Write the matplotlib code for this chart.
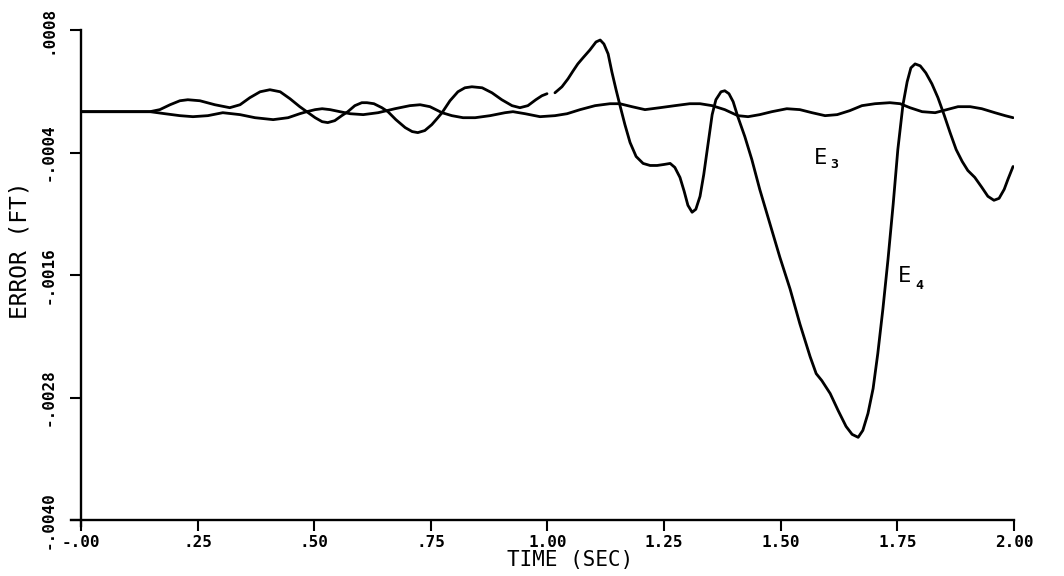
import matplotlib

matplotlib.use("Agg")
import matplotlib.pyplot as plt
import numpy as np

# time (sec) and error (ft) for the two tracking errors
t_e3 = [0.000, 0.148, 0.180, 0.212, 0.240, 0.272, 0.304, 0.341, 0.373, 0.412,
        0.444, 0.469, 0.484, 0.502, 0.517, 0.534, 0.555, 0.577, 0.605, 0.637,
        0.673, 0.705, 0.727, 0.748, 0.774, 0.795, 0.819, 0.845, 0.877, 0.909,
        0.926, 0.952, 0.984, 1.016, 1.042, 1.070, 1.102, 1.134, 1.155, 1.181,
        1.209, 1.241, 1.273, 1.305, 1.327, 1.353, 1.380, 1.408, 1.430, 1.455,
        1.481, 1.513, 1.541, 1.567, 1.595, 1.621, 1.648, 1.674, 1.702, 1.734,
        1.756, 1.777, 1.803, 1.831, 1.856, 1.880, 1.906, 1.931, 1.959, 1.981,
        1.998]
e3 = [0.0, 0.0, -0.20e-4, -0.39e-4, -0.49e-4, -0.39e-4, -0.10e-4, -0.29e-4, -0.59e-4, -0.78e-4,
      -0.59e-4, -0.20e-4, 0.0, 0.20e-4, 0.29e-4, 0.20e-4, 0.0, -0.20e-4, -0.29e-4, -0.10e-4,
      0.29e-4, 0.59e-4, 0.68e-4, 0.49e-4, -0.10e-4, -0.39e-4, -0.59e-4, -0.59e-4, -0.39e-4, -0.10e-4,
      0.0, -0.20e-4, -0.49e-4, -0.39e-4, -0.20e-4, 0.20e-4, 0.59e-4, 0.78e-4, 0.78e-4, 0.49e-4,
      0.20e-4, 0.39e-4, 0.59e-4, 0.78e-4, 0.78e-4, 0.59e-4, 0.20e-4, -0.39e-4, -0.49e-4, -0.29e-4,
      0.0, 0.29e-4, 0.20e-4, -0.10e-4, -0.39e-4, -0.29e-4, 0.10e-4, 0.59e-4, 0.78e-4, 0.88e-4,
      0.78e-4, 0.39e-4, 0.0, -0.10e-4, 0.20e-4, 0.49e-4, 0.49e-4, 0.29e-4, -0.10e-4, -0.39e-4,
      -0.59e-4]

# E4 has a short pen lift just after 1.0 sec (NaN breaks the line there)
t_e4 = [0.000, 0.148, 0.169, 0.191, 0.212, 0.229, 0.255, 0.287, 0.319, 0.341,
        0.362, 0.384, 0.405, 0.427, 0.448, 0.469, 0.484, 0.502, 0.517, 0.529,
        0.544, 0.559, 0.572, 0.587, 0.602, 0.613, 0.628, 0.645, 0.658, 0.675,
        0.695, 0.710, 0.722, 0.737, 0.752, 0.765, 0.774, 0.791, 0.808, 0.823,
        0.838, 0.860, 0.881, 0.902, 0.924, 0.941, 0.958, 0.975, 0.988, 0.999,
        1.007,
        1.016, 1.031, 1.044, 1.055, 1.065, 1.076, 1.091, 1.104, 1.113, 1.121,
        1.130, 1.138, 1.147, 1.155, 1.166, 1.177, 1.190, 1.205, 1.220, 1.235,
        1.250, 1.263, 1.273, 1.284, 1.293, 1.301, 1.310, 1.318, 1.327, 1.335,
        1.344, 1.353, 1.361, 1.372, 1.380, 1.389, 1.398, 1.408, 1.423, 1.438,
        1.455, 1.477, 1.498, 1.520, 1.541, 1.563, 1.576, 1.588, 1.606, 1.623,
        1.640, 1.653, 1.666, 1.676, 1.687, 1.698, 1.708, 1.719, 1.730, 1.741,
        1.751, 1.762, 1.771, 1.779, 1.788, 1.799, 1.811, 1.824, 1.837, 1.850,
        1.863, 1.876, 1.889, 1.901, 1.916, 1.931, 1.944, 1.957, 1.968, 1.979,
        1.987, 1.998]
e4 = [0.0, 0.0, 0.20e-4, 0.68e-4, 1.07e-4, 1.17e-4, 1.07e-4, 0.68e-4, 0.39e-4, 0.68e-4,
      1.37e-4, 1.95e-4, 2.15e-4, 1.95e-4, 1.27e-4, 0.49e-4, 0.0, -0.59e-4, -0.98e-4, -1.07e-4,
      -0.88e-4, -0.39e-4, 0.0, 0.59e-4, 0.88e-4, 0.88e-4, 0.78e-4, 0.39e-4, 0.0, -0.78e-4,
      -1.56e-4, -1.95e-4, -2.05e-4, -1.85e-4, -1.27e-4, -0.59e-4, -0.10e-4, 1.07e-4, 1.95e-4, 2.34e-4,
      2.44e-4, 2.34e-4, 1.85e-4, 1.17e-4, 0.59e-4, 0.39e-4, 0.59e-4, 1.17e-4, 1.56e-4, 1.76e-4,
      np.nan,
      1.85e-4, 2.44e-4, 3.22e-4, 4.00e-4, 4.68e-4, 5.27e-4, 6.05e-4, 6.83e-4, 7.02e-4, 6.63e-4,
      5.66e-4, 3.90e-4, 2.15e-4, 0.68e-4, -1.27e-4, -3.02e-4, -4.39e-4, -5.07e-4, -5.27e-4, -5.27e-4,
      -5.17e-4, -5.07e-4, -5.46e-4, -6.44e-4, -7.80e-4, -9.17e-4, -9.85e-4, -9.56e-4, -8.29e-4, -6.15e-4,
      -3.22e-4, -0.29e-4, 1.17e-4, 1.95e-4, 2.05e-4, 1.76e-4, 0.98e-4, -0.49e-4, -2.44e-4, -4.68e-4,
      -7.61e-4, -11.02e-4, -14.24e-4, -17.37e-4, -20.78e-4, -24.00e-4, -25.66e-4, -26.34e-4, -27.61e-4, -29.27e-4,
      -30.83e-4, -31.61e-4, -31.90e-4, -31.22e-4, -29.56e-4, -27.12e-4, -23.71e-4, -19.32e-4, -14.44e-4, -9.07e-4,
      -3.71e-4, 0.68e-4, 2.93e-4, 4.29e-4, 4.68e-4, 4.49e-4, 3.80e-4, 2.73e-4, 1.37e-4, -0.29e-4,
      -2.05e-4, -3.71e-4, -4.88e-4, -5.76e-4, -6.44e-4, -7.41e-4, -8.29e-4, -8.68e-4, -8.49e-4, -7.61e-4,
      -6.63e-4, -5.37e-4]

x_ticks = [0.0, 0.25, 0.50, 0.75, 1.00, 1.25, 1.50, 1.75, 2.00]
x_tick_labels = ["-.00", ".25", ".50", ".75", "1.00", "1.25", "1.50", "1.75", "2.00"]
y_ticks = [-0.0040, -0.0028, -0.0016, -0.0004, 0.0008]
y_tick_labels = ["-.0040", "-.0028", "-.0016", "-.0004", ".0008"]

plt.rcParams["font.family"] = ["DejaVu Sans Mono"]

fig = plt.figure(figsize=(10.64, 5.76), dpi=100)
ax = fig.add_axes([0.0761, 0.0972, 0.8769, 0.8507])

ax.plot(t_e3, e3, color="black", linewidth=2.0, solid_capstyle="round", solid_joinstyle="round")
ax.plot(t_e4, e4, color="black", linewidth=2.0, solid_capstyle="round", solid_joinstyle="round")

ax.set_xlim(0.0, 2.0)
ax.set_ylim(-0.0040, 0.0008)

for side in ("top", "right"):
    ax.spines[side].set_visible(False)
for side in ("left", "bottom"):
    ax.spines[side].set_linewidth(1.7)
ax.spines["left"].set_bounds(-0.00406, 0.0008)
ax.spines["bottom"].set_bounds(-0.022, 2.0)

ax.set_xticks(x_ticks)
ax.set_xticklabels(x_tick_labels, fontsize=11.5, fontweight="bold")
ax.set_yticks(y_ticks)
ax.set_yticklabels(y_tick_labels, fontsize=11.5, fontweight="bold", rotation=90, va="center")
ax.tick_params(axis="both", direction="out", length=8, width=1.5, color="black")
ax.tick_params(axis="x", pad=3)
ax.tick_params(axis="y", pad=10)

fig.text(0.5357, 0.028, "TIME (SEC)", fontsize=15, ha="center", va="center")
fig.text(0.019, 0.566, "ERROR (FT)", fontsize=16.5, ha="center", va="center", rotation=90)

# curve labels with plotter-style subscripts
ax.text(1.572, -0.00045, "E", fontsize=16, ha="left", va="center")
ax.text(1.606, -0.00052, "3", fontsize=9.5, ha="left", va="center", fontweight="bold")
ax.text(1.752, -0.00161, "E", fontsize=16, ha="left", va="center")
ax.text(1.788, -0.00170, "4", fontsize=9.5, ha="left", va="center", fontweight="bold")

fig.savefig("out.png", dpi=100)
